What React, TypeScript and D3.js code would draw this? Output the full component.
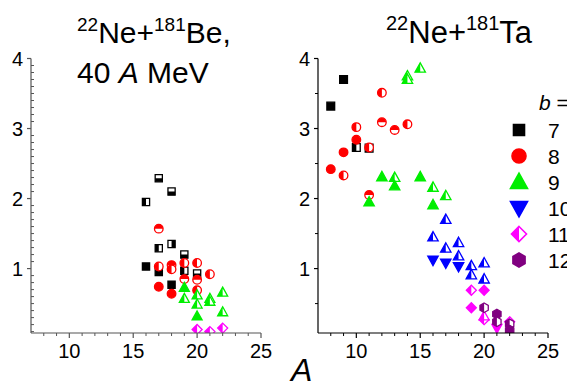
import React from "react";
import * as d3 from "d3";

type Mode = "f" | "l" | "r" | "t" | "b";
type Pt = [number, number, Mode];

// A (mass number) vs value, per impact-parameter bin b
const beB7: Pt[] = [
  [17, 2.29, "b"], [18, 2.1, "b"], [16, 1.95, "l"], [17, 1.29, "l"], [18, 1.35, "r"],
  [19, 1.2, "b"], [16, 1.03, "f"], [17, 0.95, "f"], [19, 0.97, "l"], [20, 0.93, "b"], [18, 0.77, "f"],
];
const beB8: Pt[] = [
  [17, 1.57, "t"], [17, 1.03, "l"], [18, 1.05, "t"], [18, 0.99, "l"], [19, 1.08, "l"], [20, 1.08, "l"],
  [19, 0.85, "t"], [20, 0.84, "t"], [21, 0.92, "l"], [20, 0.69, "l"], [17, 0.74, "f"], [18, 0.64, "f"],
];
const beB9: Pt[] = [
  [19, 0.73, "f"], [19, 0.57, "l"], [20, 0.62, "l"], [20, 0.49, "l"], [21, 0.57, "l"], [21, 0.53, "l"],
  [20, 0.32, "f"], [22, 0.66, "l"], [22, 0.38, "l"],
];
const beB11: Pt[] = [[20, 0.13, "l"], [21, 0.1, "l"], [22, 0.15, "l"]];

const taB7: Pt[] = [[8, 3.32, "f"], [9, 3.7, "f"], [10, 2.73, "l"], [11, 2.72, "l"]];
const taB8: Pt[] = [
  [8, 2.42, "f"], [9, 2.66, "f"], [9, 2.33, "l"], [10, 3.02, "l"], [10, 2.84, "f"], [11, 2.73, "l"],
  [11, 2.05, "t"], [12, 3.51, "l"], [12, 3.09, "t"], [13, 2.98, "t"], [14, 3.06, "l"],
];
const taB9: Pt[] = [
  [11, 1.95, "f"], [12, 2.31, "f"], [13, 2.3, "l"], [13, 2.18, "f"], [14, 3.75, "l"], [14, 3.7, "l"],
  [15, 3.86, "l"], [15, 2.31, "f"], [16, 2.16, "l"], [16, 1.91, "f"], [17, 2.04, "l"],
];
const taB10Down: Pt[] = [[16, 1.12, "f"], [17, 1.08, "f"], [18, 1.03, "f"]];
const taB10Up: Pt[] = [
  [17, 1.7, "l"], [16, 1.45, "l"], [17, 1.29, "l"], [18, 1.37, "l"], [18, 1.18, "l"],
  [19, 1.04, "l"], [19, 0.91, "l"], [20, 1.08, "l"], [20, 0.85, "l"],
];
const taB11: Pt[] = [[19, 0.69, "l"], [20, 0.69, "f"], [19, 0.44, "f"], [20, 0.27, "l"], [22, 0.24, "l"]];
const taB11Up: Pt[] = [[20, 0.32, "l"]];
const taB11Down: Pt[] = [[21, 0.15, "f"]];
const taB12: Pt[] = [[20, 0.44, "l"], [21, 0.35, "f"], [21, 0.24, "l"], [22, 0.21, "l"], [22, 0.12, "f"]];

const legendLabels = ["7", "8", "9", "10", "11", "12"];
const xTicks = [10, 15, 20, 25];
const yTicks = [1, 2, 3, 4];

const FONT = "'Liberation Sans', Arial, sans-serif";
const C = { k: "#000", r: "#ff0000", g: "#00ee00", bl: "#0000ff", m: "#ff00ff", p: "#800080" };

type Shape = "sq" | "ci" | "tu" | "td" | "di" | "hx";

function shapePath(s: Shape, r: number): string {
  switch (s) {
    case "sq":
      return `M${-r},${-r}H${r}V${r}H${-r}Z`;
    case "ci":
      return `M${-r},0A${r},${r} 0 1,0 ${r},0A${r},${r} 0 1,0 ${-r},0Z`;
    case "tu":
      return `M0,${-r * 1.05}L${r},${r * 0.75}L${-r},${r * 0.75}Z`;
    case "td":
      return `M0,${r * 1.05}L${r},${-r * 0.75}L${-r},${-r * 0.75}Z`;
    case "di":
      return `M0,${-r}L${r},0L0,${r}L${-r},0Z`;
    case "hx": {
      const pts = d3.range(6).map((i) => {
        const a = (Math.PI / 3) * i - Math.PI / 2;
        return [r * Math.cos(a), r * Math.sin(a)];
      });
      return "M" + pts.map((p) => p.join(",")).join("L") + "Z";
    }
  }
}

function Marker({ s, x, y, r, color, mode, sw = 1.3 }: { s: Shape; x: number; y: number; r: number; color: string; mode: Mode; sw?: number }) {
  const d = shapePath(s, r);
  return (
    <g transform={`translate(${x},${y})`}>
      {mode === "f" ? (
        <path d={d} fill={color} stroke={color} strokeWidth={sw} strokeLinejoin="miter" />
      ) : (
        <>
          <path d={d} fill="#fff" stroke={color} strokeWidth={sw} />
          <path d={d} fill={color} clipPath={`url(#half-${mode})`} />
        </>
      )}
    </g>
  );
}

const TOP = 58.5;
const BOT = 333;
const yScale = d3.scaleLinear().domain([0.08, 4]).range([BOT, TOP]);

type Series = { pts: Pt[]; s: Shape; color: string; r: number };

function Panel({ x0, x1, series, id, gray }: { x0: number; x1: number; series: Series[]; id: string; gray: boolean }) {
  const x = d3.scaleLinear().domain([7, 25]).range([x0, x1]);
  const axisColor = gray ? "#555" : "#000";
  const yMinor = gray ? d3.range(0.1, 4, 0.1).filter((v) => Math.abs(v - Math.round(v)) > 0.01) : [0.5, 1.5, 2.5, 3.5];
  const xMinor = d3.range(8, 25).filter((v) => v % 5 !== 0);
  return (
    <g>
      <defs>
        <clipPath id={`plot-${id}`}>
          <rect x={x0} y={TOP - 10} width={x1 - x0 + 10} height={BOT - TOP + 10} />
        </clipPath>
      </defs>
      <g clipPath={`url(#plot-${id})`}>
        {series.map((se, i) =>
          se.pts.map(([a, v, m], j) => (
            <Marker key={`${i}-${j}`} s={se.s} x={x(a)} y={yScale(v)} r={se.r} color={se.color} mode={m} />
          ))
        )}
      </g>
      {/* axes */}
      <line x1={x0} x2={x0} y1={TOP} y2={BOT} stroke={axisColor} strokeWidth={1.2} />
      <line x1={x0} x2={x1} y1={BOT} y2={BOT} stroke={axisColor} strokeWidth={1.2} />
      {yTicks.map((t) => (
        <g key={t}>
          <line x1={x0 - 4} x2={x0} y1={yScale(t)} y2={yScale(t)} stroke={axisColor} strokeWidth={1.2} />
          <text x={x0 - 8} y={yScale(t)} dy="0.36em" textAnchor="end" fontSize={20} fontFamily={FONT}>
            {t}
          </text>
        </g>
      ))}
      {yMinor.map((t) => (
        <line key={t} x1={gray ? x0 : x0 - 3} x2={gray ? x0 + 3 : x0} y1={yScale(t)} y2={yScale(t)} stroke={axisColor} strokeWidth={1} />
      ))}
      {xTicks.map((t) => (
        <g key={t}>
          <line x1={x(t)} x2={x(t)} y1={BOT} y2={BOT + 5} stroke={axisColor} strokeWidth={1.2} />
          <text x={x(t)} y={BOT + 25} textAnchor="middle" fontSize={20} fontFamily={FONT}>
            {t}
          </text>
        </g>
      ))}
      {xMinor.map((t) => (
        <line key={t} x1={x(t)} x2={x(t)} y1={BOT} y2={BOT + 3} stroke={axisColor} strokeWidth={1} />
      ))}
    </g>
  );
}

export default function App() {
  const leftSeries: Series[] = [
    { pts: beB7, s: "sq", color: C.k, r: 3.6 },
    { pts: beB8, s: "ci", color: C.r, r: 4.3 },
    { pts: beB9, s: "tu", color: C.g, r: 5 },
    { pts: beB11, s: "di", color: C.m, r: 5 },
  ];
  const rightSeries: Series[] = [
    { pts: taB7, s: "sq", color: C.k, r: 3.9 },
    { pts: taB8, s: "ci", color: C.r, r: 4.3 },
    { pts: taB9, s: "tu", color: C.g, r: 5.2 },
    { pts: taB10Down, s: "td", color: C.bl, r: 5.2 },
    { pts: taB10Up, s: "tu", color: C.bl, r: 5.2 },
    { pts: taB11, s: "di", color: C.m, r: 5 },
    { pts: taB11Up, s: "tu", color: C.m, r: 5 },
    { pts: taB11Down, s: "td", color: C.m, r: 5 },
    { pts: taB12, s: "hx", color: C.p, r: 4.8 },
  ];
  const legendShapes: { s: Shape; color: string; r: number; mode: Mode }[] = [
    { s: "sq", color: C.k, r: 5.5, mode: "f" },
    { s: "ci", color: C.r, r: 7, mode: "f" },
    { s: "tu", color: C.g, r: 8.5, mode: "f" },
    { s: "td", color: C.bl, r: 8.5, mode: "f" },
    { s: "di", color: C.m, r: 7.5, mode: "l" },
    { s: "hx", color: C.p, r: 7, mode: "f" },
  ];
  const legendY = d3.scaleLinear().domain([0, 5]).range([130, 260]);
  return (
    <svg width={567} height={384} style={{ position: "absolute", left: 0, top: 0 }}>
      <defs>
        <clipPath id="half-l" clipPathUnits="userSpaceOnUse"><rect x={-20} y={-20} width={20} height={40} /></clipPath>
        <clipPath id="half-r" clipPathUnits="userSpaceOnUse"><rect x={0} y={-20} width={20} height={40} /></clipPath>
        <clipPath id="half-t" clipPathUnits="userSpaceOnUse"><rect x={-20} y={-20} width={40} height={20} /></clipPath>
        <clipPath id="half-b" clipPathUnits="userSpaceOnUse"><rect x={-20} y={0} width={40} height={20} /></clipPath>
      </defs>
      <rect width={567} height={384} fill="#fff" />

      <Panel x0={31} x1={261} series={leftSeries} id="be" gray={true} />
      <Panel x0={318} x1={548} series={rightSeries} id="ta" gray={false} />

      {/* titles */}
      <text x={77} y={43} fontSize={30} fontFamily={FONT}>
        <tspan fontSize={19} dy={-12}>22</tspan>
        <tspan dy={12}>Ne+</tspan>
        <tspan fontSize={19} dy={-12}>181</tspan>
        <tspan dy={12}>Be,</tspan>
      </text>
      <text x={77} y={83} fontSize={30} fontFamily={FONT}>
        40 <tspan fontStyle="italic">A</tspan> MeV
      </text>
      <text x={386} y={43} fontSize={31} fontFamily={FONT}>
        <tspan fontSize={20} dy={-13}>22</tspan>
        <tspan dy={13}>Ne+</tspan>
        <tspan fontSize={20} dy={-13}>181</tspan>
        <tspan dy={13}>Ta</tspan>
      </text>

      {/* axis title */}
      <text x={291} y={381} fontSize={32} fontStyle="italic" fontFamily={FONT}>A</text>

      {/* legend */}
      <text x={539} y={110} fontSize={21} fontFamily={FONT}>
        <tspan fontStyle="italic">b</tspan> =
      </text>
      {legendLabels.map((lab, i) => (
        <g key={lab}>
          <Marker s={legendShapes[i].s} x={519} y={legendY(i)} r={legendShapes[i].r} color={legendShapes[i].color} mode={legendShapes[i].mode} sw={1.6} />
          <text x={548} y={legendY(i)} dy="0.36em" fontSize={21} fontFamily={FONT}>{lab}</text>
        </g>
      ))}
    </svg>
  );
}
